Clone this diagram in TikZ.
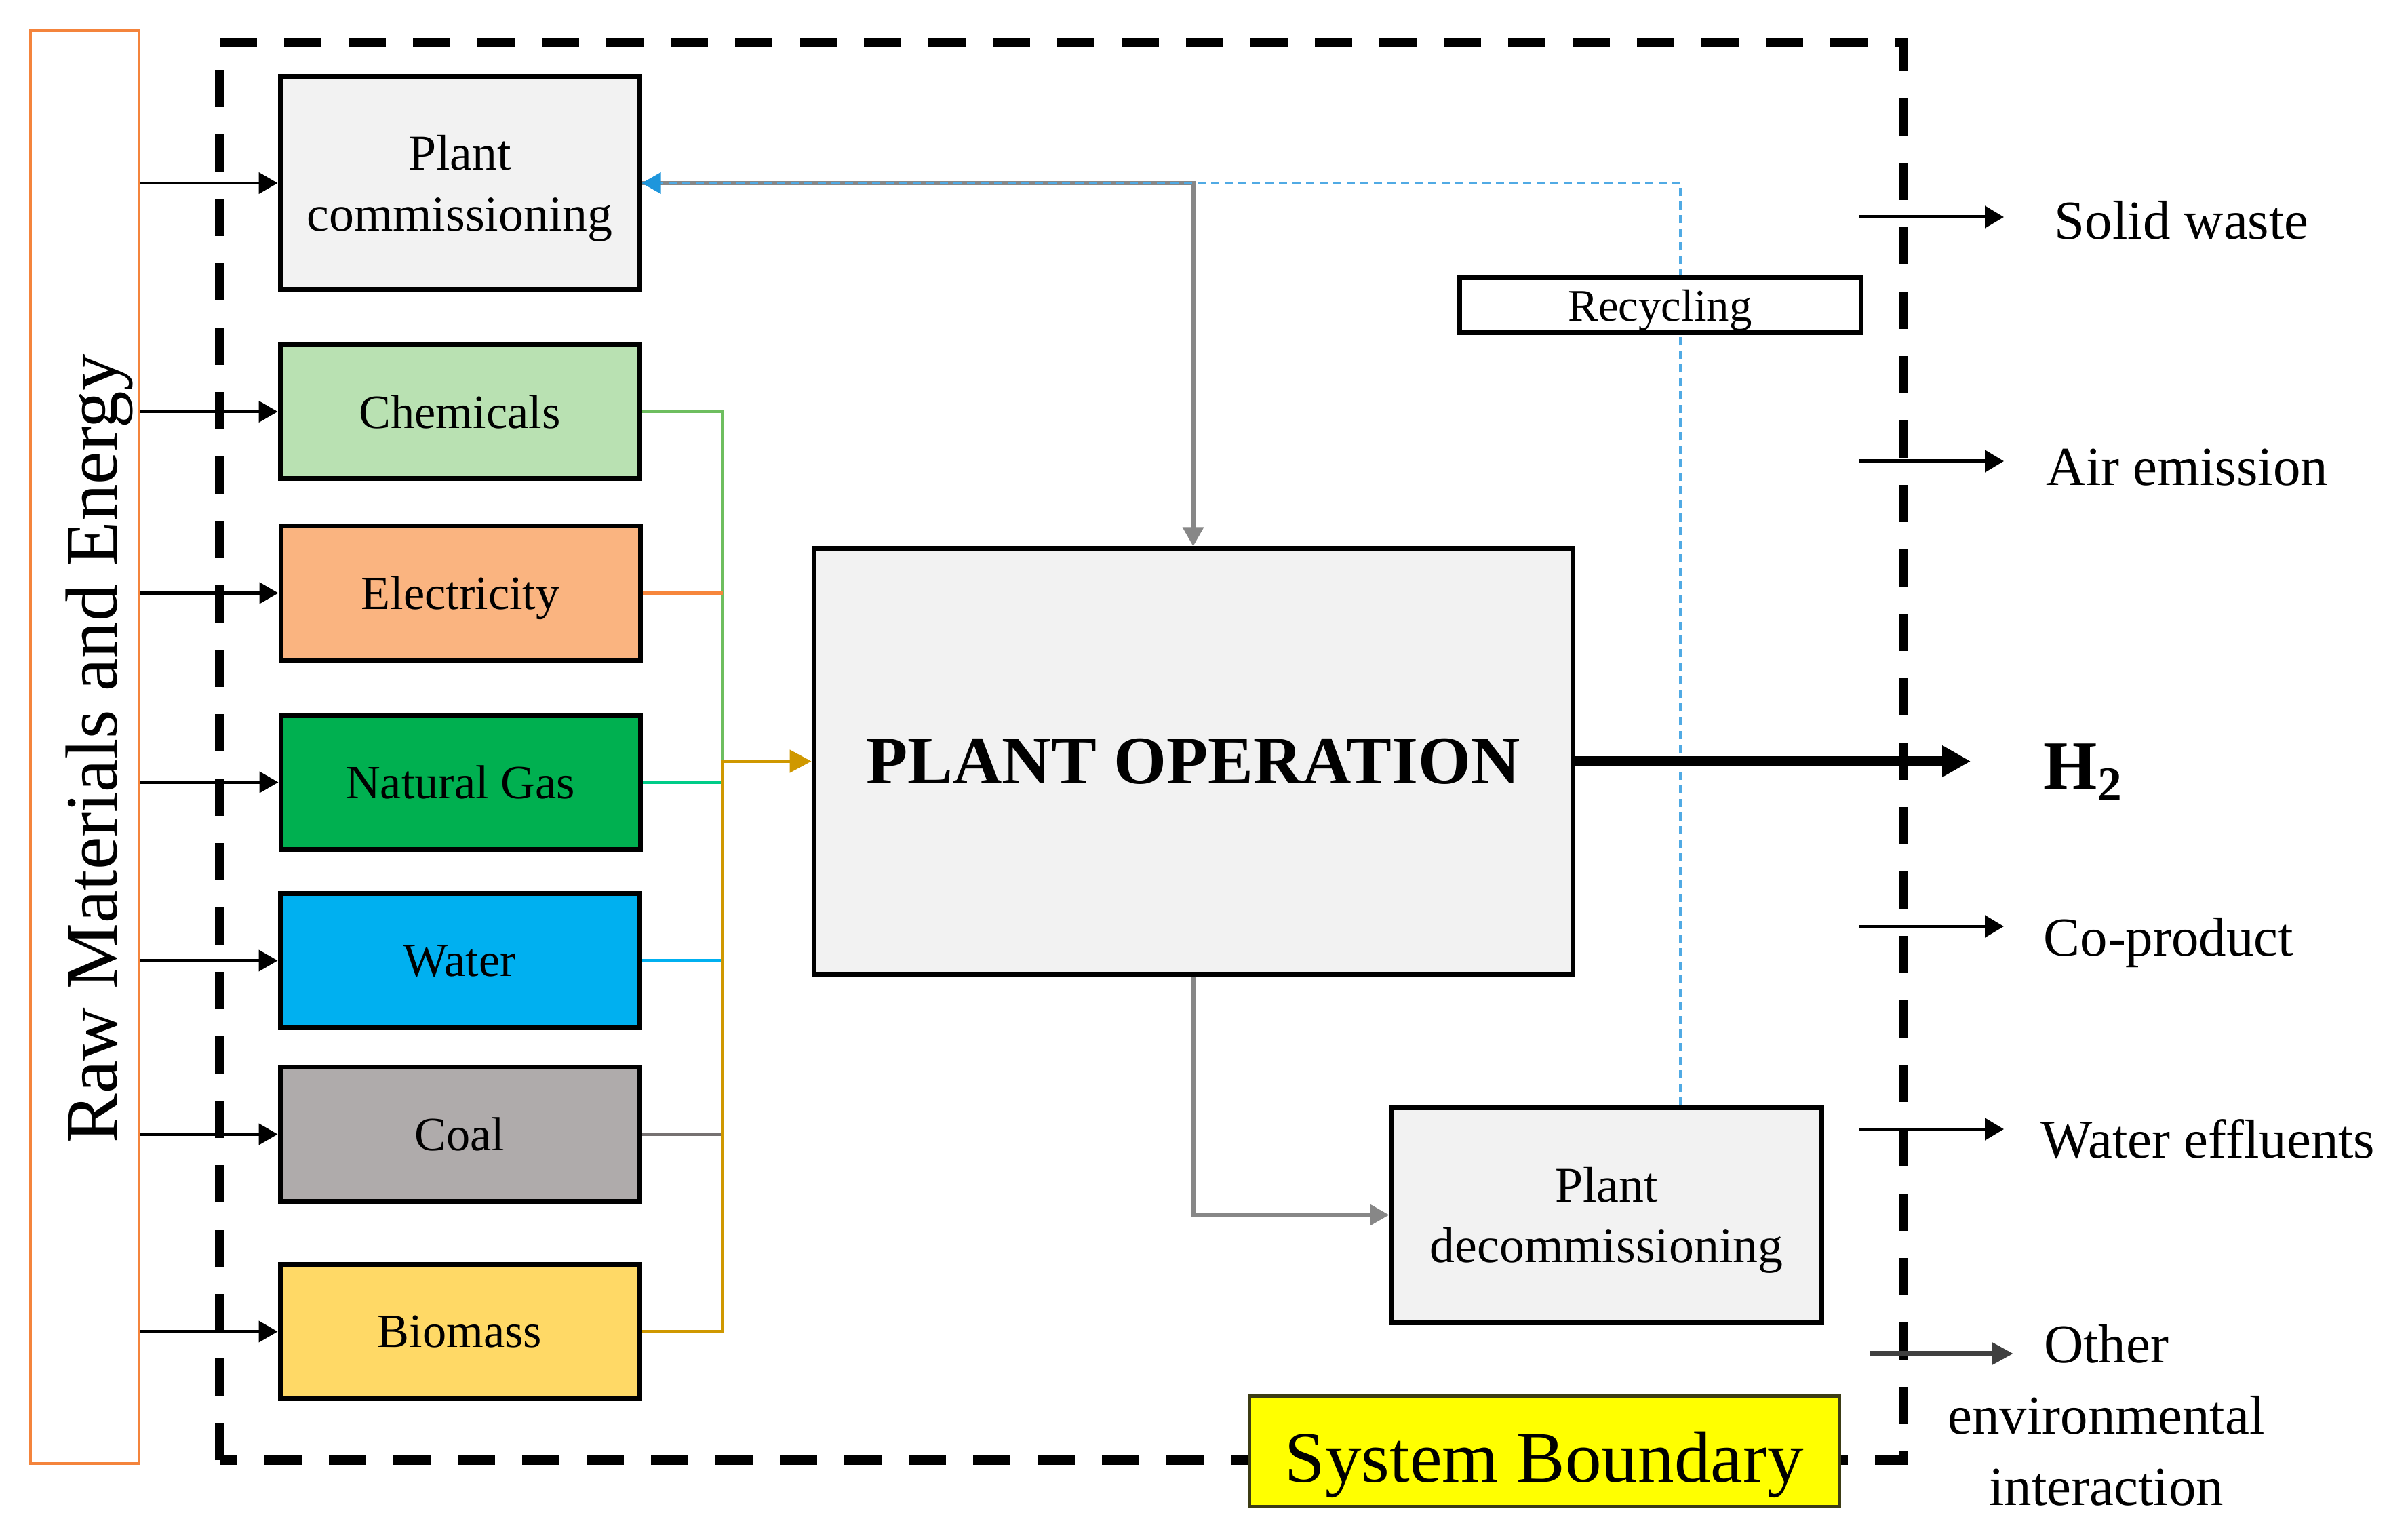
\documentclass[tikz,border=0pt]{standalone}
\usepackage{fontspec}
\setmainfont{Liberation Serif}
\usetikzlibrary{arrows.meta, positioning, calc}

\definecolor{RawOrange}{RGB}{244,132,60}
\definecolor{PanelGray}{RGB}{242,242,242}
\definecolor{ChemFill}{RGB}{185,225,178}
\definecolor{ElecFill}{RGB}{250,180,128}
\definecolor{GasFill}{RGB}{0,176,80}
\definecolor{WaterFill}{RGB}{0,176,240}
\definecolor{CoalFill}{RGB}{175,171,171}
\definecolor{BioFill}{RGB}{255,217,102}
\definecolor{ChemLine}{RGB}{110,190,95}
\definecolor{ElecLine}{RGB}{247,134,60}
\definecolor{GasLine}{RGB}{0,204,136}
\definecolor{WaterLine}{RGB}{0,176,240}
\definecolor{CoalLine}{RGB}{118,113,113}
\definecolor{BioLine}{RGB}{207,152,0}
\definecolor{LinkGray}{RGB}{135,135,135}
\definecolor{RecBlue}{RGB}{80,170,228}
\definecolor{TipBlue}{RGB}{30,150,220}
\definecolor{SysYellow}{RGB}{255,255,0}
\definecolor{SysEdge}{RGB}{60,60,20}
\definecolor{OtherGray}{RGB}{64,64,64}

\begin{document}
\begin{tikzpicture}[x=1mm, y=1mm,
    srcbox/.style={draw=black, line width=0.7mm, minimum width=53mm,
                   minimum height=19.8mm, inner sep=0pt, align=center,
                   text depth=0pt, font=\fontsize{20}{26}\selectfont},
    feed/.style={line width=0.5mm},
    inarrow/.style={draw=black, line width=0.45mm,
                    -{Triangle[length=2.8mm,width=3.1mm]}},
    outarrow/.style={draw=black, line width=0.5mm,
                     -{Triangle[length=2.8mm,width=3.2mm]}},
    graylink/.style={draw=LinkGray, line width=0.6mm,
                     -{Triangle[length=2.8mm,width=3mm]}},
    outlabel/.style={anchor=base west, inner sep=0pt,
                     font=\fontsize{23}{30}\selectfont}]

  \fill[white] (0,0) rectangle (355.1,-225.9);
  \useasboundingbox (0,0) rectangle (355.1,-225.9);

  % raw materials column
  \node[draw=RawOrange, line width=0.4mm, minimum width=16mm,
        minimum height=211.3mm, inner sep=0pt] (raw) at (12.5,-110.15) {};
  \node[rotate=90, anchor=base, inner sep=0pt,
        font=\fontsize{31}{36}\selectfont] (rawtxt) at (17.2,-110.4)
    {Raw Materials and Energy};

  % system boundary
  \draw[line width=1.4mm, dash pattern=on 5.5mm off 4mm]
    (32.4,-215.3) -- (32.4,-6.3) -- (280.7,-6.3) -- (280.7,-215.3) -- cycle;

  % inputs
  \node[srcbox, fill=PanelGray, minimum height=31.4mm,
        font=\fontsize{21}{25.8}\selectfont] (pc) at (67.8,-27.0)
    {Plant\\commissioning};
  \node[srcbox, fill=ChemFill]  (chem)  at (67.8,-60.7)   {Chemicals};
  \node[srcbox, fill=ElecFill]  (elec)  at (67.9,-87.45)  {Electricity};
  \node[srcbox, fill=GasFill]   (ngas)  at (67.9,-115.35) {Natural Gas};
  \node[srcbox, fill=WaterFill] (water) at (67.8,-141.65) {Water};
  \node[srcbox, fill=CoalFill]  (coal)  at (67.8,-167.25) {Coal};
  \node[srcbox, fill=BioFill]   (bio)   at (67.8,-196.35) {Biomass};

  % main process
  \node[draw=black, line width=0.7mm, fill=PanelGray, minimum width=111.9mm,
        minimum height=62.7mm, inner sep=0pt,
        font=\bfseries\fontsize{28.5}{34}\selectfont] (op) at (175.95,-112.25)
    {PLANT OPERATION};
  \node[srcbox, fill=PanelGray, minimum width=63.4mm, minimum height=31.7mm,
        font=\fontsize{21}{25.5}\selectfont] (dec) at (236.9,-179.15)
    {Plant\\decommissioning};

  \foreach \src in {pc, chem, elec, ngas, water, coal, bio}
    \draw[inarrow] (raw.east |- \src.west) -- (\src.west);

  % feed bus into operation
  \coordinate (bus) at ($(op.west)+(-13.1,0)$);
  \draw[feed, ChemLine]  (chem.east) -| (bus);
  \draw[feed, ElecLine]  (elec.east) -- (elec.east -| bus);
  \draw[feed, GasLine]   (ngas.east) -- (ngas.east -| bus);
  \draw[feed, WaterLine] (water.east) -- (water.east -| bus);
  \draw[feed, CoalLine]  (coal.east) -- (coal.east -| bus);
  \draw[feed, BioLine, -{Triangle[length=3.2mm,width=3.3mm]}]
    (bio.east) -| (bus) -- (op.west);

  % life cycle links
  \draw[graylink] (pc.east) -| (op.north);
  \draw[graylink] (op.south) |- (dec.west);
  \coordinate (recx) at (247.8,0);
  \draw[RecBlue, line width=0.35mm, dash pattern=on 1.2mm off 0.8mm,
        -{Triangle[length=2.8mm,width=3.1mm,color=TipBlue]}]
    (dec.north -| recx) |- (pc.east);
  \node[draw=black, line width=0.7mm, fill=white, minimum width=59.2mm,
        minimum height=8.1mm, inner sep=0pt, text depth=0pt,
        font=\fontsize{19}{23}\selectfont] (recyc) at (244.8,-45.05) {Recycling};

  \node[draw=SysEdge, line width=0.5mm, fill=SysYellow, minimum width=87mm,
        minimum height=16.3mm, inner sep=0pt, text height=9mm, text depth=0pt,
        font=\fontsize{30.5}{36}\selectfont] (sysb) at (227.7,-214.0)
    {System Boundary};

  % outputs
  \node[anchor=base west, inner sep=0pt,
        font=\bfseries\fontsize{29}{34}\selectfont] (h2) at (301.3,-116.3)
    {H\textsubscript{2}};
  \coordinate (h2end) at (290.6,-112.25);
  \draw[line width=1.5mm, -{Triangle[length=4.2mm,width=4.4mm]}]
    (op.east) -- (op.east -| h2end);

  \coordinate (swfrom)  at (274.2,-32.0);  \coordinate (swto)  at (295.5,-32.0);
  \coordinate (airfrom) at (274.2,-68.0);  \coordinate (airto) at (295.5,-68.0);
  \coordinate (copfrom) at (274.2,-136.6); \coordinate (copto) at (295.5,-136.6);
  \coordinate (weffrom) at (274.2,-166.5); \coordinate (wefto) at (295.5,-166.5);
  \coordinate (othfrom) at (275.7,-199.6); \coordinate (othto) at (296.9,-199.6);

  \draw[outarrow] (swfrom) -- (swto);
  \draw[outarrow] (airfrom) -- (airto);
  \draw[outarrow] (copfrom) -- (copto);
  \draw[outarrow] (weffrom) -- (wefto);
  \draw[OtherGray, line width=0.8mm, -{Triangle[length=3.2mm,width=3.2mm]}]
    (othfrom) -- (othto);

  \node[outlabel] (solid)  at (302.9,-35.3)  {Solid waste};
  \node[outlabel] (air)    at (301.7,-71.6)  {Air emission};
  \node[outlabel] (coprod) at (301.3,-140.9) {Co-product};
  \node[outlabel] (weff)   at (300.9,-170.7) {Water effluents};
  \node[anchor=north, inner sep=0pt, align=center,
        font=\fontsize{23}{29.8}\selectfont] (other) at (310.6,-195.3)
    {Other\\environmental\\interaction};

\end{tikzpicture}
\end{document}
